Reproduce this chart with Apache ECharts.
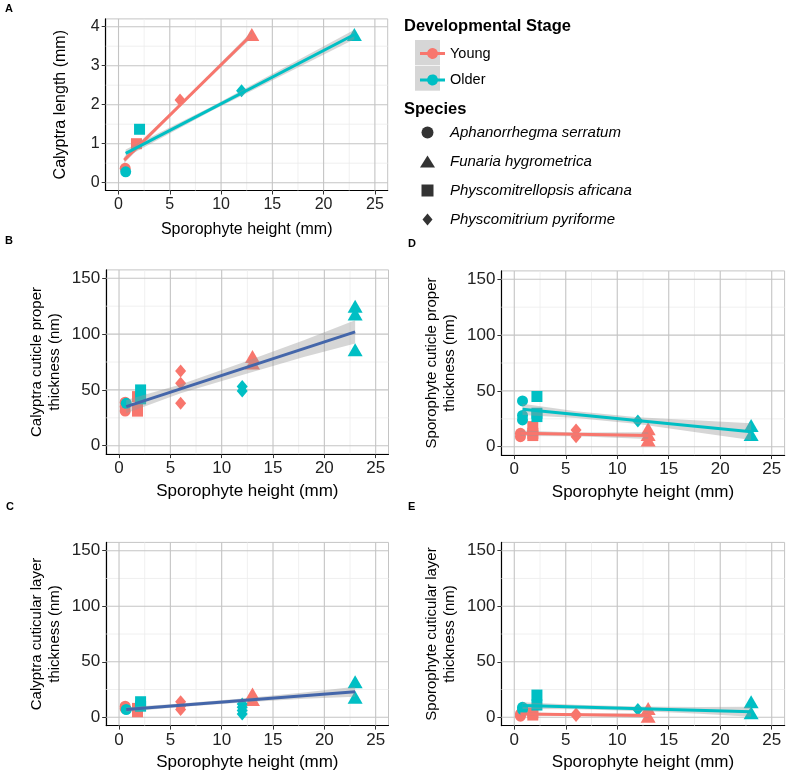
<!DOCTYPE html>
<html><head><meta charset="utf-8">
<script src="https://cdn.jsdelivr.net/npm/echarts@6/dist/echarts.min.js"></script>
<style>html,body{margin:0;padding:0;background:#fff}#c{width:787px;height:775px}</style>
</head><body><div id="c"></div>
<script>
// ---------------- data ----------------
const species = ['Aphanorrhegma serratum','Funaria hygrometrica','Physcomitrellopsis africana','Physcomitrium pyriforme'];
const stages = ['Young','Older'];
const xTicks = [0,5,10,15,20,25];
const xMinor = [2.5,7.5,12.5,17.5,22.5];
const yTicksA = [0,1,2,3,4];
const yMinorA = [0.5,1.5,2.5,3.5];
const yTicksNm = [0,50,100,150];
const yMinorNm = [25,75,125];

// points: [sporophyte height (mm), value, species index]
const youngA = [[0.65,0.37,0],[1.75,1.00,2],[6,2.12,3],[13,3.80,1]];
const olderA = [[0.7,0.28,0],[2.05,1.37,2],[12,2.36,3],[23,3.80,1]];
const fitYoungA = [[0.55,0.58],[13,3.80]];
const fitOlderA = [[0.7,0.75],[23,3.80]];
const bandYoungA = [[0.55,0.50,0.66],[6,1.96,2.03],[13,3.72,3.88]];   // [x, lower, upper]
const bandOlderA = [[0.7,0.65,0.85],[9,1.83,1.94],[23,3.68,3.92]];

const youngB = [[0.6,39,0],[0.6,31,0],[0.6,35,0],[1.8,44,2],[1.8,33,2],[1.8,31,2],[6,67,3],[6,56,3],[6,38,3],[13,80,1],[13,74,1]];
const olderB = [[0.7,38,0],[2.1,50,2],[2.1,42,2],[12,53,3],[12,49,3],[23,125,1],[23,118,1],[23,86,1]];
const fitB = [[0.7,35],[23,102]];
const bandB = [[0.7,29,41],[6,46.9,54.9],[12,63.4,74.4],[18,79.5,94.5],[23,91.5,112.5]];

const youngC = [[0.6,10,0],[0.6,8,0],[1.8,5,2],[1.8,8,2],[6,14,3],[6,10,3],[6,7,3],[13,21,1],[13,16,1]];
const olderC = [[0.7,7,0],[2.1,14,2],[2.1,10,2],[12,12,3],[12,9,3],[12,6,3],[12,3,3],[23,32,1],[23,18,1]];
const fitC = [[0.7,7],[23,23]];
const bandC = [[0.7,5,9],[6,9.3,12.3],[12,13.4,16.8],[18,16.6,22.2],[23,18.5,27.5]];

const youngD = [[0.6,12,0],[0.6,9,0],[1.8,18,2],[1.8,12,2],[1.8,10,2],[6,15,3],[6,9,3],[13,16,1],[13,11,1],[13,6,1]];
const olderD = [[0.8,41,0],[0.8,28,0],[0.8,24,0],[2.2,45,2],[2.2,30,2],[2.2,27,2],[12,23,3],[23,19,1],[23,11,1]];
const fitYoungD = [[0.6,12],[13,10]];
const bandYoungD = [[0.6,9.5,14.5],[6,9.4,12.8],[13,7,13]];
const fitOlderD = [[0.8,33.5],[23,13.5]];
const bandOlderD = [[0.8,28.5,38.5],[6,25.8,31.8],[12,20.4,26.4],[18,12.5,23.5],[23,6,21]];

const youngE = [[0.6,3,0],[0.6,1,0],[1.8,4,2],[1.8,2,2],[6,3,3],[6,1.5,3],[13,8,1],[13,1,1]];
const olderE = [[0.8,9,0],[0.8,7,0],[2.2,20,2],[2.2,11,2],[12,7,3],[23,14,1],[23,4,1]];
const fitYoungE = [[0.6,3],[13,1.5]];
const bandYoungE = [[0.6,1.5,4.5],[6,1.3,3.5],[13,-0.5,3.5]];
const fitOlderE = [[0.8,10.5],[23,5]];
const bandOlderE = [[0.8,7.5,13.5],[6,7.2,11.2],[12,5.7,9.7],[18,3.2,9.2],[23,0.5,9.5]];

// ---------------- style ----------------
const FONT = '"Liberation Sans", Arial, Helvetica, sans-serif';
const RED = '#F8766D', TEAL = '#00BFC4', BLUE = '#4466AA';
const SYM = ['circle','triangle','rect','diamond'];
const SYMSIZE = [11,[15,13],11,[11,13]];
const LEG_ICON = [
  'path://M5,0A5,5,0,1,1,5,10A5,5,0,1,1,5,0Z',
  'path://M7.5,0L15,12L0,12Z',
  'path://M0,0L10,0L10,10L0,10Z',
  'path://M5,0L10,6L5,12L0,6Z'
];
const STAGE_ICON = 'path://M0,4.5L7.21,4.5A5.5,5.5,0,0,1,17.79,4.5L25,4.5L25,7.5L17.79,7.5A5.5,5.5,0,0,1,7.21,7.5L0,7.5Z';

const grids = [
  {left:105.7, top:18.9, width:282, height:171.6},   // A
  {left:106.2, top:269.9, width:282.3, height:184.2}, // B
  {left:106.2, top:542.4, width:282.3, height:183.2}, // C
  {left:501.4, top:270.9, width:283.2, height:184.2}, // D
  {left:501.4, top:542.4, width:283.2, height:183.2}  // E
];
const yNames = [
  'Calyptra length (mm)',
  'Calyptra cuticle proper\nthickness (nm)',
  'Calyptra cuticular layer\nthickness (nm)',
  'Sporophyte cuticle proper\nthickness (nm)',
  'Sporophyte cuticular layer\nthickness (nm)'
];

function xAxisDef(g) {
  const a = g === 0;
  return {type:'value', gridIndex:g, min:-1.25, max:26.25,
    name:'Sporophyte height (mm)', nameLocation:'middle', nameGap: a ? 31 : 28.5,
    nameTextStyle:{fontSize: a ? 16 : 17, color:'#000', fontFamily:FONT},
    axisLine:{onZero:false, lineStyle:{color:'#000', width:1.2}},
    axisTick:{customValues:xTicks, length:4, lineStyle:{color:'#333'}},
    axisLabel:{customValues:xTicks, fontSize: a ? 16 : 17, color:'#222', margin:6, fontFamily:FONT},
    splitLine:{show:false}};
}
function yAxisDef(g) {
  const a = g === 0;
  return {type:'value', gridIndex:g,
    min: a ? -0.2 : -7.5, max: a ? 4.2 : 157.5,
    name:yNames[g], nameLocation:'middle', nameGap: a ? 36 : 42.5,
    nameTextStyle:{fontSize: a ? 16 : 15, lineHeight:18, color:'#000', fontFamily:FONT},
    axisLine:{onZero:false, lineStyle:{color:'#000', width:1.2}},
    axisTick:{customValues: a ? yTicksA : yTicksNm, length:4, lineStyle:{color:'#333'}},
    axisLabel:{customValues: a ? yTicksA : yTicksNm, fontSize: a ? 16 : 17, color:'#222', margin:6, fontFamily:FONT},
    splitLine:{show:false}};
}

function gridLines(g, vals, vertical, color, width) {
  return {type:'custom', xAxisIndex:g, yAxisIndex:g, z:1, silent:true,
    data: vals.map(v => vertical ? [v, 0] : [0, v]),
    renderItem: (params, api) => {
      const cs = params.coordSys;
      if (vertical) {
        const x = api.coord([api.value(0), 0])[0];
        return {type:'line', shape:{x1:x, y1:cs.y, x2:x, y2:cs.y + cs.height}, style:{stroke:color, lineWidth:width}};
      }
      const y = api.coord([0, api.value(1)])[1];
      return {type:'line', shape:{x1:cs.x, y1:y, x2:cs.x + cs.width, y2:y}, style:{stroke:color, lineWidth:width}};
    }};
}
function pts(arr, color, g, name) {
  return {type:'scatter', name, xAxisIndex:g, yAxisIndex:g, z:2, silent:true,
    itemStyle:{color, opacity:1},
    data: arr.map(d => ({value:[d[0], d[1]], symbol:SYM[d[2]], symbolSize:SYMSIZE[d[2]]}))};
}
function band(b, g) {
  return {type:'custom', xAxisIndex:g, yAxisIndex:g, z:3, silent:true,
    data: b.map(d => [d[0], d[1], d[2]]), encode:{x:0, y:[1,2]},
    renderItem: (params, api) => {
      if (params.dataIndex !== 0) return null;
      const up = b.map(d => api.coord([d[0], d[2]]));
      const lo = b.map(d => api.coord([d[0], d[1]])).reverse();
      return {type:'polygon', shape:{points: up.concat(lo)}, style:{fill:'rgba(153,153,153,0.4)'}};
    }};
}
function fit(f, color, g, name) {
  return {type:'line', name, xAxisIndex:g, yAxisIndex:g, z:4, silent:true, data:f,
    symbol:'none', lineStyle:{width:3, color}, itemStyle:{color}};
}

const series = [];
series.push(fit(fitYoungA, RED, 0, stages[0]));
series.push(fit(fitOlderA, TEAL, 0, stages[1]));
species.forEach((s, i) => series.push({type:'scatter', name:s, xAxisIndex:0, yAxisIndex:0, data:[], symbol:SYM[i], itemStyle:{color:'#000'}}));

for (let g = 0; g < 5; g++) {
  series.push(gridLines(g, xMinor, true, '#ececec', 0.8));
  series.push(gridLines(g, g === 0 ? yMinorA : yMinorNm, false, '#ececec', 0.8));
  series.push(gridLines(g, xTicks, true, '#c4c4c4', 1.1));
  series.push(gridLines(g, g === 0 ? yTicksA : yTicksNm, false, '#c4c4c4', 1.1));
}
series.push(pts(youngA, RED, 0, stages[0]), pts(olderA, TEAL, 0, stages[1]));
series.push(band(bandYoungA, 0), band(bandOlderA, 0));
series.push(pts(youngB, RED, 1, stages[0]), pts(olderB, TEAL, 1, stages[1]));
series.push(band(bandB, 1), fit(fitB, BLUE, 1, 'Fit'));
series.push(pts(youngC, RED, 2, stages[0]), pts(olderC, TEAL, 2, stages[1]));
series.push(band(bandC, 2), fit(fitC, BLUE, 2, 'Fit'));
series.push(pts(youngD, RED, 3, stages[0]), pts(olderD, TEAL, 3, stages[1]));
series.push(band(bandYoungD, 3), band(bandOlderD, 3));
series.push(fit(fitYoungD, RED, 3, stages[0]), fit(fitOlderD, TEAL, 3, stages[1]));
series.push(pts(youngE, RED, 4, stages[0]), pts(olderE, TEAL, 4, stages[1]));
series.push(band(bandYoungE, 4), band(bandOlderE, 4));
series.push(fit(fitYoungE, RED, 4, stages[0]), fit(fitOlderE, TEAL, 4, stages[1]));

const txt = (t, x, y, size) => ({type:'text', left:x, top:y, silent:true,
  style:{text:t, font:'bold ' + size + 'px ' + FONT, fill:'#000'}});

const option = {
  animation:false,
  backgroundColor:'#fff',
  textStyle:{fontFamily:FONT},
  grid: grids.map(g => Object.assign({show:true, borderColor:'#c4c4c4', borderWidth:1, backgroundColor:'#fff'}, g)),
  xAxis: [0,1,2,3,4].map(xAxisDef),
  yAxis: [0,1,2,3,4].map(yAxisDef),
  legend: [
    {orient:'vertical', left:415, top:41, itemWidth:25, itemHeight:25, itemGap:11.4, selectedMode:false,
     data: stages.map(s => ({name:s, icon:STAGE_ICON})),
     textStyle:{fontSize:14.5, color:'#000', fontFamily:FONT}},
    {orient:'vertical', left:415, top:120, itemWidth:25, itemHeight:12, itemGap:14, selectedMode:false,
     data: species.map((s, i) => ({name:s, icon:LEG_ICON[i], itemStyle:{color:'#000'}})),
     textStyle:{fontSize:15, fontStyle:'italic', color:'#000', fontFamily:FONT, padding:[0,0,0,5]}}
  ],
  graphic: [
    {type:'rect', left:415, top:40, z:-1, silent:true, shape:{width:25, height:25}, style:{fill:'#d6d6d6'}},
    {type:'rect', left:415, top:65.7, z:-1, silent:true, shape:{width:25, height:25}, style:{fill:'#d6d6d6'}},
    txt('Developmental Stage', 404, 18, 16.5),
    txt('Species', 404, 101, 16.5),
    txt('A', 5, 3, 11),
    txt('B', 5, 235, 11),
    txt('C', 6, 501, 11),
    txt('D', 408, 238, 11),
    txt('E', 408, 501, 11)
  ],
  series
};
const chart = echarts.init(document.getElementById('c'), null, {renderer:'canvas'});
chart.setOption(option);
</script></body></html>
